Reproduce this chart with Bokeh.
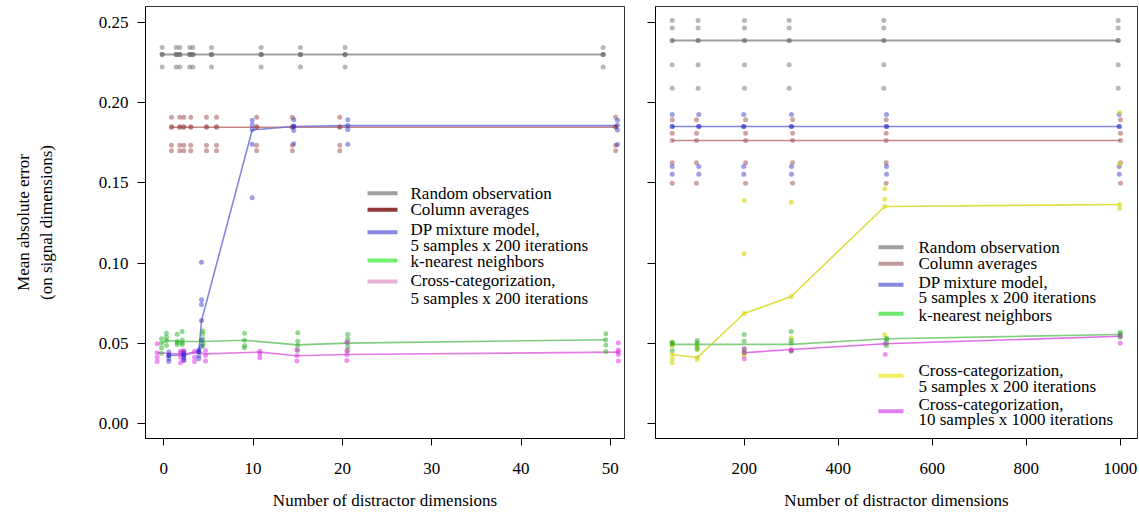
from bokeh.plotting import figure
from bokeh.layouts import row
from bokeh.models import FixedTicker, Label, CustomJSTickFormatter
from bokeh.embed import file_html
from bokeh.resources import INLINE

FONT = "Liberation Serif"
FS = "17px"

# ---------------- shared texts / ticks ----------------
y_ticks = [0.0, 0.05, 0.10, 0.15, 0.20, 0.25]
y_tick_labels = ["0.00", "0.05", "0.10", "0.15", "0.20", "0.25"]
left_xticks = [0, 10, 20, 30, 40, 50]
right_xticks = [200, 400, 600, 800, 1000]
x_label = "Number of distractor dimensions"
y_label = "Mean absolute error\n(on signal dimensions)"

# ---------------- left panel data ----------------
L_gray_x = [-0.18, 1.39, 1.79, 2.91, 3.25, 5.34, 10.9, 15.3, 20.3, 49.2]
L_gray_vals = [[0.2344, 0.230, 0.230, 0.230, 0.2222]] * 10
L_gray_line = [0.230] * 10

L_red_x = [0.86, 1.79, 2.24, 3.02, 4.78, 5.9, 10.4, 14.4, 19.7, 50.6]
L_red_vals = [[0.191, 0.185, 0.1847, 0.1735, 0.170]] * 10
L_red_line = [0.1847] * 10

L_blue_x = [0.56, 2.24, 3.92, 4.22, 9.9, 14.56, 20.6, 50.8]
L_blue_vals = [
    [0.0445, 0.0424, 0.0403, 0.0387, 0.0424],
    [0.0445, 0.0428, 0.0410, 0.0395, 0.0428],
    [0.0460, 0.0449, 0.0424, 0.0403, 0.0447],
    [0.1006, 0.0771, 0.0742, 0.0642, 0.0517, 0.0480],
    [0.1890, 0.1862, 0.1833, 0.1741, 0.1407],
    [0.1893, 0.1854, 0.1827, 0.1744, 0.1852],
    [0.1893, 0.1858, 0.1833, 0.1741],
    [0.1890, 0.1860, 0.1830, 0.1740],
]
L_blue_line_x = [0.3, 2.24, 3.92, 4.22, 9.9, 14.56, 20.6, 50.8]
L_blue_line_y = [0.0424, 0.0428, 0.0447, 0.064, 0.183, 0.1852, 0.1857, 0.1857]

L_green_x = [-0.26, 0.3, 1.5, 2.06, 4.37, 9.04, 15.0, 20.6, 49.5]
L_green_vals = [
    [0.0528, 0.0501, 0.0470, 0.0438],
    [0.0563, 0.0538, 0.0517, 0.0486],
    [0.0557, 0.0513, 0.0503, 0.0492],
    [0.0574, 0.0521, 0.0503, 0.0492],
    [0.0576, 0.0559, 0.0528, 0.0501, 0.0486],
    [0.0563, 0.0519, 0.0484, 0.0472],
    [0.0565, 0.0513, 0.0486, 0.0455],
    [0.0557, 0.0528, 0.0505, 0.0480, 0.0455],
    [0.0559, 0.0522, 0.0490, 0.0449],
]
L_green_line_x = [-0.26, 0.3, 2.06, 4.37, 9.04, 15.0, 20.6, 49.5]
L_green_line_y = [0.0501, 0.0517, 0.0511, 0.0511, 0.0519, 0.0490, 0.0501, 0.0522]

L_pink_x = [-0.74, 1.87, 2.24, 3.44, 4.67, 10.75, 14.9, 20.5, 50.9]
L_pink_vals = [
    [0.0497, 0.0441, 0.0413, 0.0387],
    [0.0441, 0.0413, 0.0378, 0.0451],
    [0.0441, 0.0455, 0.0420, 0.0395],
    [0.0451, 0.0413, 0.0387],
    [0.0455, 0.0424, 0.0389],
    [0.0451, 0.0434, 0.0410],
    [0.0460, 0.0424, 0.0389],
    [0.0507, 0.0455, 0.0430, 0.0393],
    [0.0503, 0.0459, 0.0445, 0.0430, 0.0389],
]
L_pink_line_x = [-0.74, 2.24, 3.44, 4.67, 10.75, 14.9, 20.5, 50.9]
L_pink_line_y = [0.0441, 0.0432, 0.0445, 0.0434, 0.0445, 0.0422, 0.0430, 0.0445]

# ---------------- right panel data ----------------
R_gray_x = [46.8, 102, 200.6, 295.7, 497, 995.7]
R_gray_vals = [[0.2513, 0.2465, 0.2388, 0.2388, 0.2236, 0.2090]] * 6
R_gray_line = [0.2388] * 6

R_red_x = [46.8, 98.5, 203, 303, 502, 1000.6]
R_red_vals = [[0.1893, 0.1810, 0.1764, 0.1625, 0.1498]] * 6
R_red_line = [0.1764] * 6

R_blue_x = [46.8, 103.4, 199, 300.6, 502.8, 998]
R_blue_vals = [[0.1926, 0.1852, 0.1852, 0.1602, 0.1554]] * 6
R_blue_line = [0.1852] * 6

R_yellow_x = [46.8, 100, 200, 300, 499, 999]
R_yellow_vals = [
    [0.0507, 0.0486, 0.0430, 0.0403, 0.0378],
    [0.0497, 0.0476, 0.0460, 0.0397, 0.0411],
    [0.1390, 0.1058, 0.0686, 0.0441, 0.0424],
    [0.1380, 0.0792, 0.0534, 0.0455],
    [0.1463, 0.1398, 0.1353, 0.0553],
    [0.1939, 0.1619, 0.1365, 0.1340],
]
R_yellow_line = [0.0430, 0.0411, 0.0686, 0.0792, 0.1353, 0.1365]

R_green_x = [46.8, 100, 200, 300, 503, 1000]
R_green_vals = [
    [0.0503, 0.0493, 0.0455, 0.0503],
    [0.0517, 0.0503, 0.0486, 0.0465],
    [0.0555, 0.0513, 0.0465, 0.0445],
    [0.0574, 0.0517, 0.0501, 0.0451],
    [0.0528, 0.0528, 0.0486, 0.0505],
    [0.0569, 0.0559, 0.0549, 0.0538],
]
R_green_line = [0.0493, 0.0493, 0.0493, 0.0493, 0.0528, 0.0555]

R_mag_x = [200, 300, 500, 1000]
R_mag_vals = [
    [0.0466, 0.0441, 0.0403],
    [0.0455, 0.0461],
    [0.0497, 0.0430],
    [0.0544, 0.0500],
]
R_mag_line = [0.0441, 0.0461, 0.0497, 0.0544]

L_legend = [
    ("Random observation", "#a0a0a0", True),
    ("Column averages", "#903838", True),
    ("DP mixture model,", "#8888e0", True),
    ("5 samples x 200 iterations", None, False),
    ("k-nearest neighbors", "#70f070", True),
    ("Cross-categorization,", "#e8b0d8", True),
    ("5 samples x 200 iterations", None, False),
]
R_legend = [
    ("Random observation", "#a0a0a0", True),
    ("Column averages", "#c09898", True),
    ("DP mixture model,", "#8888e0", True),
    ("5 samples x 200 iterations", None, False),
    ("k-nearest neighbors", "#70e870", True),
    ("Cross-categorization,", "#f2ee60", True),
    ("5 samples x 200 iterations", None, False),
    ("Cross-categorization,", "#e080f0", True),
    ("10 samples x 1000 iterations", None, False),
]

# ---------------- layout geometry (page pixels, body margin 0) ----------------
H = 516
FRAME_TOP = 6
FRAME_BOT = 438
Y0_PIX, Y_PER_PIX = 423.0, 1604.0   # y=0 at pixel 423, 1 unit = 1604 px


def ypix(p):
    return (Y0_PIX - p) / Y_PER_PIX


Y_RANGE = (ypix(FRAME_BOT), ypix(FRAME_TOP))

L_FL, L_FR = 145, 624
L_X0PIX, L_PPU = 163.3, 8.93
L_W = 635
R_FL, R_FR = 655, 1137
R_X0PIX, R_PPU = 743.7 - 200 * 0.47, 0.47
R_W = 1139 - L_W


def lx(p):
    return (p - L_X0PIX) / L_PPU


def rx(p):
    return (p - R_X0PIX) / R_PPU


def flatten(xs, vals):
    ox, oy = [], []
    for x, vs in zip(xs, vals):
        for v in vs:
            ox.append(x)
            oy.append(v)
    return ox, oy


def style(p, xticks, show_ylabels):
    p.xgrid.visible = False
    p.ygrid.visible = False
    p.outline_line_color = "#333333"
    p.outline_line_width = 1
    p.background_fill_color = "white"
    p.border_fill_color = "white"
    p.xaxis.ticker = FixedTicker(ticks=xticks)
    p.yaxis.ticker = FixedTicker(ticks=y_ticks)
    for ax in (p.xaxis[0], p.yaxis[0]):
        ax.axis_line_color = "black"
        ax.major_tick_line_color = "black"
        ax.minor_tick_line_color = None
        ax.major_tick_in = 0
        ax.major_label_text_font = FONT
        ax.major_label_text_font_size = FS
        ax.major_label_text_color = "black"
        ax.axis_label_text_font = FONT
        ax.axis_label_text_font_size = FS
        ax.axis_label_text_font_style = "normal"
        ax.axis_label_text_color = "black"
    p.xaxis.major_tick_out = 7
    p.xaxis.major_label_standoff = 17
    p.xaxis.axis_label = x_label
    p.xaxis.axis_label_standoff = 14
    p.yaxis.major_tick_out = 8
    if show_ylabels:
        p.yaxis.major_label_overrides = {t: s for t, s in zip(y_ticks, y_tick_labels)}
        p.yaxis.major_label_standoff = 9
        p.yaxis.axis_label = y_label
        p.yaxis.axis_label_standoff = 40
    else:
        p.yaxis.formatter = CustomJSTickFormatter(code="return ''")
        p.yaxis.major_label_standoff = 0


PT = dict(size=5, line_color=None)

# ---------------- left figure ----------------
p1 = figure(width=L_W, height=H, x_range=(lx(L_FL), lx(L_FR)), y_range=Y_RANGE,
            output_backend="svg", toolbar_location=None,
            min_border_left=L_FL, min_border_right=L_W - L_FR,
            min_border_top=FRAME_TOP, min_border_bottom=H - FRAME_BOT)
style(p1, left_xticks, True)

p1.line(L_gray_x, L_gray_line, color="#a0a0a0", line_width=2)
p1.line(L_red_x, L_red_line, color="#c07878", line_width=1.6, alpha=0.9)
p1.line(L_blue_line_x, L_blue_line_y, color="#7070d8", line_width=1.6, alpha=0.85)
p1.line(L_green_line_x, L_green_line_y, color="#70c870", line_width=1.6, alpha=0.9)
p1.line(L_pink_line_x, L_pink_line_y, color="#e070e0", line_width=1.6, alpha=0.9)

x, y = flatten(L_gray_x, L_gray_vals)
p1.scatter(x, y, fill_color="#707070", fill_alpha=0.5, **PT)
x, y = flatten(L_red_x, L_red_vals)
p1.scatter(x, y, fill_color="#a04848", fill_alpha=0.5, **PT)
x, y = flatten(L_green_x, L_green_vals)
p1.scatter(x, y, fill_color="#28b028", fill_alpha=0.5, **PT)
x, y = flatten(L_pink_x, L_pink_vals)
p1.scatter(x, y, fill_color="#e028e0", fill_alpha=0.5, **PT)
x, y = flatten(L_blue_x, L_blue_vals)
p1.scatter(x, y, fill_color="#2828c8", fill_alpha=0.45, **PT)

L_LEG_ROWS = [192.7, 209.3, 229.3, 245.3, 261, 280, 297.7]
L_LEG_SW = [192.7, 209.3, 231.7, None, 260, 281, None]
for (txt, col, sw), yy, sy in zip(L_legend, L_LEG_ROWS, L_LEG_SW):
    p1.add_layout(Label(x=lx(410), y=ypix(yy), text=txt, text_font=FONT,
                        text_font_size=FS, text_baseline="middle", text_align="left",
                        text_color="black"))
    if sw:
        p1.line([lx(367), lx(397)], [ypix(sy), ypix(sy)], color=col, line_width=4)

# ---------------- right figure ----------------
p2 = figure(width=R_W, height=H, x_range=(rx(R_FL), rx(R_FR)), y_range=Y_RANGE,
            output_backend="svg", toolbar_location=None,
            min_border_left=R_FL - L_W, min_border_right=R_W - (R_FR - L_W),
            min_border_top=FRAME_TOP, min_border_bottom=H - FRAME_BOT)
style(p2, right_xticks, False)

p2.line(R_gray_x, R_gray_line, color="#a0a0a0", line_width=2)
p2.line(R_red_x, R_red_line, color="#c08080", line_width=1.6, alpha=0.9)
p2.line(R_blue_x, R_blue_line, color="#7070e0", line_width=1.6, alpha=0.85)
p2.line(R_yellow_x, R_yellow_line, color="#dede40", line_width=1.6)
p2.line(R_green_x, R_green_line, color="#80d080", line_width=1.6)
p2.line(R_mag_x, R_mag_line, color="#e070e8", line_width=1.6)

x, y = flatten(R_gray_x, R_gray_vals)
p2.scatter(x, y, fill_color="#707070", fill_alpha=0.5, **PT)
x, y = flatten(R_red_x, R_red_vals)
p2.scatter(x, y, fill_color="#a04848", fill_alpha=0.5, **PT)
x, y = flatten(R_blue_x, R_blue_vals)
p2.scatter(x, y, fill_color="#2828c8", fill_alpha=0.45, **PT)
x, y = flatten(R_yellow_x, R_yellow_vals)
p2.scatter(x, y, fill_color="#d8d820", fill_alpha=0.65, **PT)
x, y = flatten(R_green_x, R_green_vals)
p2.scatter(x, y, fill_color="#28b028", fill_alpha=0.5, **PT)
x, y = flatten(R_mag_x, R_mag_vals)
p2.scatter(x, y, fill_color="#e028e0", fill_alpha=0.5, **PT)

R_LEG_ROWS = [246.7, 263.3, 281.7, 296.7, 315, 370, 386, 404, 419.3]
R_LEG_SW = [246.7, 263.3, 284.3, None, 313.3, 375.3, None, 410.7, None]
for (txt, col, sw), yy, sy in zip(R_legend, R_LEG_ROWS, R_LEG_SW):
    p2.add_layout(Label(x=rx(918), y=ypix(yy), text=txt, text_font=FONT,
                        text_font_size=FS, text_baseline="middle", text_align="left",
                        text_color="black"))
    if sw:
        p2.line([rx(878), rx(903)], [ypix(sy), ypix(sy)], color=col, line_width=4)

layout = row(p1, p2)
open("out.html", "w").write(file_html(layout, INLINE))
